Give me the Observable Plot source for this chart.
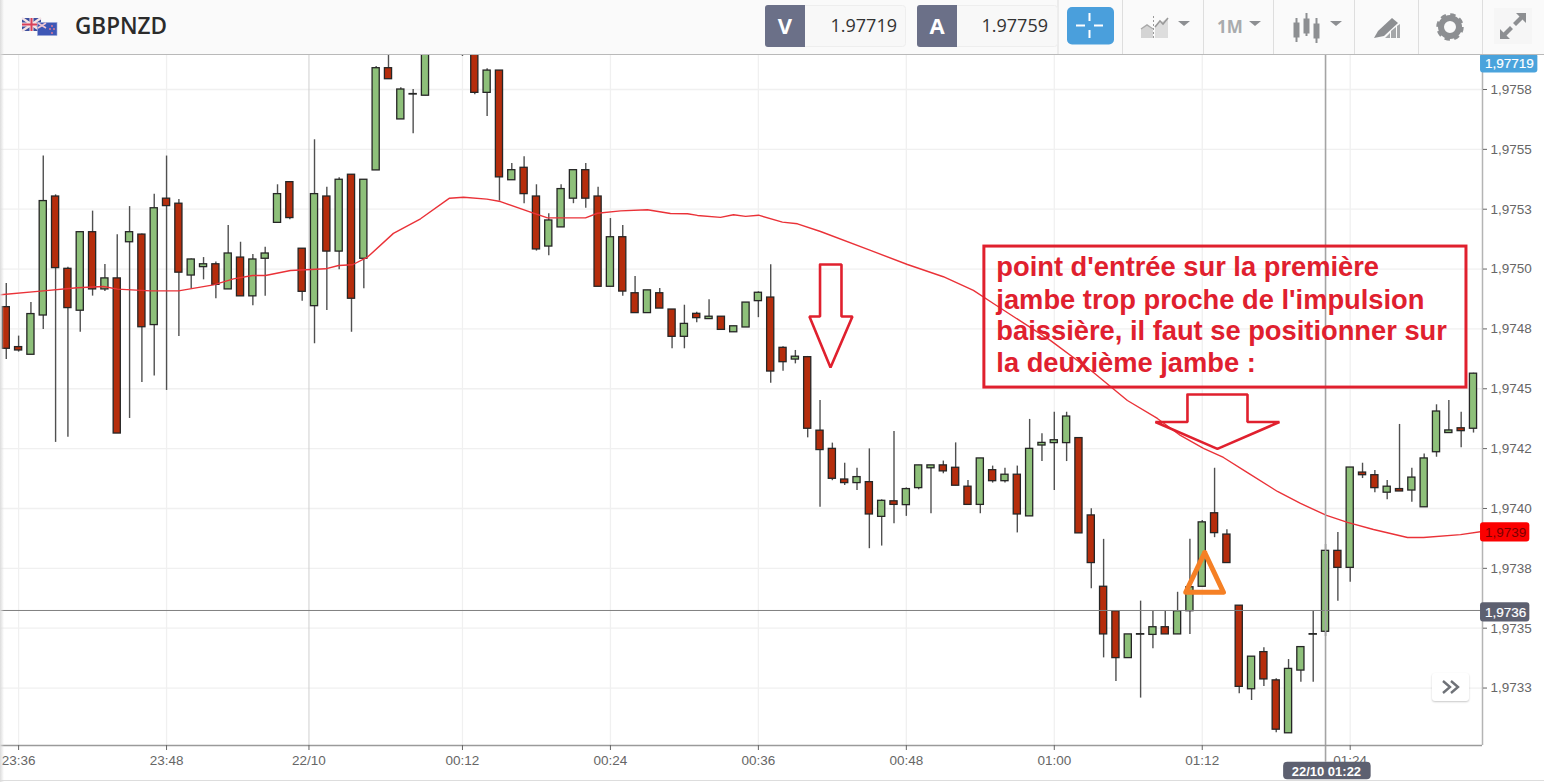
<!DOCTYPE html>
<html lang="fr">
<head>
<meta charset="utf-8">
<title>GBPNZD</title>
<script src="https://cdn.jsdelivr.net/npm/d3@7"></script>
<script src="https://cdn.jsdelivr.net/npm/@observablehq/plot@0.6"></script>
<style>
html,body{margin:0;padding:0;background:#fff;width:1544px;height:782px;overflow:hidden;}
#chart{position:absolute;left:0;top:55px;width:1544px;height:727px;}
#chart svg{display:block;overflow:visible;background:transparent;}
#header{position:absolute;left:0;top:0;z-index:2;display:block;}
#shade{position:absolute;left:0;top:0;width:4px;height:782px;z-index:3;background:linear-gradient(to right,#dcdcdc,rgba(255,255,255,0));}
#foot{position:absolute;left:0;top:780px;width:1544px;height:1px;background:#ddd;}
#more{position:absolute;left:1432px;top:673px;width:37px;height:28px;background:#fff;border-radius:3px;box-shadow:0 1px 2px rgba(0,0,0,.22);z-index:2;}
</style>
</head>
<body>
<div id="chart"></div>
<svg id="header" width="1544" height="55" xmlns="http://www.w3.org/2000/svg" font-family="'Open Sans',sans-serif">
  <rect width="1544" height="54" fill="#fafafa"/>
  <line x1="0" x2="1544" y1="54.5" y2="54.5" stroke="#b9b9b9"/>
  <g stroke="#dedede"><line x1="1058" x2="1058" y2="54"/><line x1="1122.5" x2="1122.5" y2="54"/><line x1="1203.5" x2="1203.5" y2="54"/><line x1="1273.5" x2="1273.5" y2="54"/><line x1="1354.5" x2="1354.5" y2="54"/><line x1="1418.5" x2="1418.5" y2="54"/><line x1="1482.5" x2="1482.5" y2="54"/></g>
  <!-- flags -->
  <rect x="22" y="18" width="19" height="13" fill="#3d4f9e"/>
  <path d="M22 18L41 31M41 18L22 31" stroke="#f3e3e6" stroke-width="2.4"/>
  <path d="M31.5 18V31M22 24.5H41" stroke="#f3e3e6" stroke-width="4"/>
  <path d="M31.5 18V31M22 24.5H41" stroke="#d9415a" stroke-width="2"/>
  <rect x="37.5" y="22.5" width="19.5" height="13" fill="#3e57b6" stroke="#9aa7da" stroke-width=".6"/>
  <path d="M38 23L46 28M46 23L38 28" stroke="#f0c6d2" stroke-width="1.6"/>
  <g fill="#ec7d92"><circle cx="52" cy="26" r=".9"/><circle cx="50" cy="29" r=".9"/><circle cx="54" cy="29" r=".9"/><circle cx="52" cy="33" r=".9"/></g>
  <text x="75" y="34" font-size="22.5" font-weight="600" fill="#2b2b2b">GBPNZD</text>
  <!-- bid / ask -->
  <rect x="765.5" y="5.5" width="140" height="41" rx="3" fill="#f8f8f8" stroke="#eeeeee"/>
  <path d="M768 5H805V47H768Q765 47 765 44V8Q765 5 768 5Z" fill="#6b7088"/>
  <text x="785" y="33.5" font-size="22" font-weight="700" fill="#fff" text-anchor="middle">V</text>
  <text x="897" y="32" font-size="18" fill="#333" text-anchor="end">1.97719</text>
  <rect x="917.5" y="5.5" width="140" height="41" rx="3" fill="#f8f8f8" stroke="#eeeeee"/>
  <path d="M920 5H957V47H920Q917 47 917 44V8Q917 5 920 5Z" fill="#6b7088"/>
  <text x="937" y="33.5" font-size="22" font-weight="700" fill="#fff" text-anchor="middle">A</text>
  <text x="1048" y="32" font-size="18" fill="#333" text-anchor="end">1.97759</text>
  <!-- crosshair button -->
  <rect x="1067" y="7" width="47" height="37.5" rx="5" fill="#4a9fdc"/>
  <path d="M1089.5 13V21M1089.5 30V38M1076 25.5H1085M1094 25.5H1103" stroke="#fff" stroke-width="2"/>
  <!-- chart type -->
  <path d="M1141 38V29L1147 25L1153 30V38Z" fill="#d4d4d4"/>
  <path d="M1155 38V26L1168 18V38Z" fill="#dddddd"/>
  <path d="M1141 29L1147 25L1153 29" fill="none" stroke="#aaa" stroke-width="1.5"/>
  <path d="M1155 27L1160 21L1163 24L1168 18" fill="none" stroke="#999" stroke-width="1.6"/>
  <path d="M1153.5 16V40" stroke="#999" stroke-width="1" stroke-dasharray="2 2"/>
  <path d="M1178 21H1190L1184 26Z" fill="#8d8f92"/>
  <text x="1217" y="33" font-size="17" font-weight="700" fill="#a9abad">1M</text>
  <path d="M1249 21H1261L1255 26Z" fill="#8d8f92"/>
  <!-- candles icon -->
  <g fill="#8d8f92" stroke="#8d8f92">
    <path d="M1296.5 18V42M1306.5 13V36M1316.5 18V43" stroke-width="2" fill="none"/>
    <rect x="1294" y="23" width="5" height="14"/><rect x="1304" y="19" width="5" height="14"/><rect x="1314" y="24" width="5" height="14"/>
  </g>
  <path d="M1330 21H1342L1336 26Z" fill="#8d8f92"/>
  <!-- drawing tool -->
  <path d="M1374 38L1378 31L1392 18L1398 23L1384 36Z" fill="#8d8f92"/>
  <path d="M1385 38L1390 33V38ZM1391 38V31L1396 27V38ZM1397 38V26L1400 24V38Z" fill="#a5a7a9"/>
  <!-- gear -->
  <circle cx="1450" cy="27" r="9" fill="none" stroke="#8d8f92" stroke-width="6"/>
  <circle cx="1450" cy="27" r="12" fill="none" stroke="#8d8f92" stroke-width="3.5" stroke-dasharray="5.2 4.2"/>
  <!-- expand -->
  <rect x="1494" y="8" width="38" height="36" fill="#f6f6f6"/>
  <path d="M1516 13H1526V23L1522.5 19.5L1516 26L1513 23L1519.5 16.5ZM1500 29L1503.5 32.5L1510 26L1513 29L1506.5 35.5L1510 39H1500Z" fill="#8d8f92"/>
</svg>
<div id="more"><svg width="37" height="28" xmlns="http://www.w3.org/2000/svg"><path d="M11 8L18 14L11 20M19 8L26 14L19 20" fill="none" stroke="#6f7278" stroke-width="2.4"/></svg></div>
<div id="foot"></div>
<div id="shade"></div>
<script>
// Candle prices, one entry per minute from 23:35 (index 0) to 01:34
const opens = [
1.974841,1.974674,1.974642,1.974806,1.975303,1.975001,1.974826,1.975154,1.974915,1.974961,
1.975112,1.975144,1.974766,1.975294,1.975273,1.974973,1.975008,1.975020,1.974915,1.975048,
1.974886,1.975043,1.975193,1.975363,1.975085,1.974845,1.975303,1.975073,1.975394,1.975043,
1.975412,1.975839,1.975625,1.975729,1.975724,1.976000,1.976060,1.975970,1.975997,1.975736,
1.975829,1.975371,1.975423,1.975303,1.975094,1.975174,1.975294,1.975413,1.975303,1.974926,
1.975133,1.974899,1.974816,1.974899,1.974831,1.974717,1.974813,1.974791,1.974801,1.974736,
1.974756,1.974866,1.974881,1.974671,1.974622,1.974632,1.974325,1.974249,1.974121,1.974106,
1.974110,1.973965,1.974030,1.974014,1.974085,1.974168,1.974180,1.974170,1.974091,1.974015,
1.974160,1.974114,1.974141,1.973967,1.974263,1.974273,1.974273,1.974294,1.973971,1.973673,
1.973571,1.973375,1.973473,1.973472,1.973504,1.973474,1.973571,1.973673,1.973980,1.973891,
1.973594,1.973245,1.973400,1.973282,1.973061,1.973323,1.973473,1.973485,1.973823,1.973752,
1.974150,1.974139,1.974066,1.974081,1.974075,1.974005,1.974235,1.974315,1.974335,1.974333];
const highs = [
1.974940,1.974720,1.974860,1.975472,1.975310,1.975008,1.975157,1.975242,1.975019,1.975143,
1.975261,1.975146,1.975312,1.975472,1.975291,1.975042,1.975048,1.975029,1.975182,1.975112,
1.975061,1.975091,1.975352,1.975363,1.975085,1.975540,1.975342,1.975381,1.975394,1.975373,
1.975846,1.975934,1.975757,1.975750,1.976020,1.976120,1.976200,1.976100,1.976030,1.975837,
1.975829,1.975441,1.975469,1.975352,1.975231,1.975352,1.975413,1.975441,1.975342,1.975211,
1.975182,1.974969,1.974911,1.974919,1.974831,1.974849,1.974820,1.974872,1.974801,1.974761,
1.974860,1.974905,1.975018,1.974675,1.974660,1.974635,1.974451,1.974273,1.974189,1.974168,
1.974249,1.974036,1.974322,1.974086,1.974180,1.974180,1.974198,1.974274,1.974117,1.974209,
1.974177,1.974168,1.974177,1.974372,1.974312,1.974402,1.974402,1.974296,1.973999,1.973871,
1.973571,1.973474,1.973613,1.973571,1.973571,1.973650,1.973871,1.973950,1.974168,1.973911,
1.973594,1.973381,1.973418,1.973289,1.973369,1.973421,1.973571,1.973850,1.973900,1.974171,
1.974189,1.974159,1.974117,1.974351,1.974168,1.974228,1.974433,1.974451,1.974402,1.974565];
const lows = [
1.974622,1.974653,1.974642,1.974748,1.974276,1.974297,1.974736,1.974887,1.974906,1.974313,
1.974376,1.974526,1.974553,1.974493,1.974718,1.974918,1.974955,1.974876,1.974915,1.974886,
1.974847,1.974886,1.975193,1.975206,1.974866,1.974688,1.974827,1.974997,1.974736,1.974918,
1.975412,1.975793,1.975625,1.975565,1.975724,1.975920,1.975960,1.975888,1.975728,1.975637,
1.975284,1.975371,1.975273,1.975075,1.975056,1.975174,1.975273,1.975254,1.974926,1.974926,
1.974886,1.974816,1.974816,1.974835,1.974667,1.974667,1.974776,1.974791,1.974746,1.974736,
1.974756,1.974797,1.974523,1.974573,1.974604,1.974295,1.974005,1.974116,1.974096,1.974075,
1.973832,1.973843,1.973936,1.973967,1.974078,1.973978,1.974145,1.974095,1.974015,1.973978,
1.974106,1.974106,1.973898,1.973967,1.974196,1.974075,1.974196,1.973896,1.973665,1.973376,
1.973277,1.973375,1.973208,1.973414,1.973474,1.973474,1.973474,1.973673,1.973878,1.973772,
1.973226,1.973198,1.973256,1.973063,1.973061,1.973274,1.973274,1.973465,1.973613,1.973692,
1.974125,1.974066,1.974036,1.974071,1.974026,1.974005,1.974214,1.974315,1.974254,1.974315];
const closes = [
1.974667,1.974660,1.974812,1.975284,1.975004,1.974837,1.975154,1.974915,1.974961,1.974313,
1.975154,1.974757,1.975254,1.975263,1.974985,1.975040,1.975020,1.974934,1.975065,1.974886,
1.975040,1.975065,1.975313,1.975213,1.974905,1.975313,1.975073,1.975373,1.974876,1.975373,
1.975839,1.975793,1.975750,1.975731,1.975997,1.976060,1.976000,1.976030,1.975736,1.975829,
1.975383,1.975413,1.975313,1.975082,1.975203,1.975334,1.975413,1.975294,1.974926,1.975133,
1.974906,1.974816,1.974911,1.974835,1.974717,1.974771,1.974795,1.974801,1.974746,1.974761,
1.974860,1.974901,1.974572,1.974611,1.974634,1.974333,1.974244,1.974124,1.974106,1.974131,
1.973975,1.974032,1.974015,1.974081,1.974180,1.974180,1.974155,1.974095,1.974015,1.974209,
1.974114,1.974141,1.973975,1.974249,1.974274,1.974285,1.974384,1.973896,1.973772,1.973474,
1.973375,1.973474,1.973475,1.973504,1.973474,1.973571,1.973671,1.973942,1.973897,1.973772,
1.973255,1.973381,1.973286,1.973076,1.973330,1.973421,1.973475,1.973823,1.973752,1.974171,
1.974139,1.974085,1.974091,1.974071,1.974129,1.974209,1.974405,1.974326,1.974323,1.974563];

// Moving average
const maMinutes = [-1.47,1.78,4.75,6.89,8.02,10.7,12.97,15.81,17.43,18.97,20.02,22.05,24.89,25.95,27.08,28.3,30.4,32.6,34.95,36.09,37.98,39.08,41.52,42.9,45.98,46.95,48.82,51,52.87,54.25,55.06,56.93,57.98,58.96,60.01,61.95,63.17,65.04,69.09,72.09,75,77.44,79.06,83.68,87.18,89.93,92.36,94.23,96.1,97.72,99.67,102.1,103.97,106.08,107.78,109.89,112.65,113.95,116.95,118.73];
const maPrices = [1.974893,1.974908,1.974922,1.974927,1.974916,1.974909,1.974909,1.974934,1.974959,1.974973,1.974973,1.974994,1.975001,1.975015,1.975018,1.975050,1.975149,1.975210,1.975296,1.975300,1.975292,1.975282,1.975238,1.975214,1.975214,1.975233,1.975243,1.975248,1.975232,1.975231,1.975224,1.975216,1.975227,1.975220,1.975225,1.975196,1.975189,1.975157,1.975078,1.975019,1.974968,1.974911,1.974856,1.974702,1.974568,1.974451,1.974376,1.974305,1.974251,1.974213,1.974150,1.974071,1.974021,1.973971,1.973942,1.973912,1.973879,1.973879,1.973891,1.973904];

// Axes
const priceTicks = [1.97575,1.9755,1.97525,1.975,1.97475,1.9745,1.97425,1.974,1.97375,1.9735,1.97325];
const priceLabels = ["1,9758","1,9755","1,9753","1,9750","1,9748","1,9745","1,9742","1,9740","1,9738","1,9735","1,9733"];
const timeTicks = [0,12,23.55,36,48,60,72,84,96,108];
const timeLabels = ["23:36","23:48","22/10","00:12","00:24","00:36","00:48","01:00","01:12","01:24"];
const xDomain = [-1.468,118.73];
const yDomain = [1.97301,1.975892];

// Live-price tags and crosshair
const crossMinute = 106;
const crossPrice = 1.973574;
const tags = [
  {label:"1,97719", price:1.975859, fill:"#4aa3dc", color:"#fff", to:123.22},
  {label:"1,9739",  price:1.973900, fill:"#fb0000", color:"#7a0000", to:122.57},
  {label:"1,9736",  price:1.973566, fill:"#5d6070", color:"#fff", to:122.57}
];
const timeTag = {label:"22/10 01:22", from:102.6, to:109.7, top:1.972940, bottom:1.972867, mid:106.07, text:1.972900};

// Hand-drawn annotations, in chart units
const arrowOneMinutes = [65,66.74,66.74,67.63,65.85,64.14,65,65];
const arrowOnePrices  = [1.975019,1.975019,1.974802,1.974802,1.974589,1.974802,1.974802,1.975019];
const arrowTwoMinutes = [94.8,99.67,99.67,102.26,97.23,92.2,94.8,94.8];
const arrowTwoPrices  = [1.974476,1.974476,1.974361,1.974361,1.974249,1.974361,1.974361,1.974476];
const triMinutes = [96.2,97.72,94.66,96.2];
const triPrices  = [1.973816,1.973650,1.973650,1.973816];
const noteBox = {x1:78.33,x2:117.43,y1:1.975094,y2:1.974505};
const noteLines = ["point d'entrée sur la première","jambe trop proche de l'impulsion","baissière, il faut se positionner sur","la deuxième jambe :"];
const notePrices = [1.974969,1.974835,1.974702,1.974568];
const noteMinute = 79.3;

const candles = opens.map((o,i)=>({m:i-1,open:o,high:highs[i],low:lows[i],close:closes[i]}));
const ma = maMinutes.map((m,i)=>({m,p:maPrices[i]}));
const path = (ms,ps)=>ms.map((m,i)=>({m,p:ps[i]}));
const priceLabel = new Map(priceTicks.map((t,i)=>[t,priceLabels[i]]));
const timeLabel = new Map(timeTicks.map((t,i)=>[t,timeLabels[i]]));
const halfBody = 0.29, tagHalf = 0.00004, RED = "#e0202e";

const chart = Plot.plot({
  width:1544, height:727,
  marginTop:0, marginLeft:0, marginRight:62, marginBottom:37,
  x:{domain:xDomain},
  y:{domain:yDomain},
  style:{fontFamily:"'Liberation Sans',Arial,sans-serif",fontSize:"13.5px",background:"transparent"},
  marks:[
    Plot.ruleY(priceTicks,{stroke:"#f0f0f0",strokeWidth:1.3}),
    Plot.ruleX(timeTicks.filter(t=>t!==23.55),{stroke:"#f0f0f0",strokeWidth:1.3}),
    Plot.ruleX([23.55],{stroke:"#cfcfcf",strokeWidth:1}),
    Plot.ruleX(candles,{x:"m",y1:"low",y2:"high",stroke:"#505050",strokeWidth:1.4,clip:true}),
    Plot.rect(candles,{
      x1:d=>d.m-halfBody,x2:d=>d.m+halfBody,y1:"open",y2:"close",
      fill:d=>d.close>=d.open?"#8ec07a":"#b52d0c",
      stroke:"#262626",strokeWidth:1.3,clip:true
    }),
    Plot.line(ma,{x:"m",y:"p",stroke:"#ea3238",strokeWidth:1.4,clip:true}),
    Plot.ruleY([crossPrice],{stroke:"#808080",strokeWidth:1}),
    Plot.ruleX([crossMinute],{y1:yDomain[1],y2:timeTag.top,stroke:"#a4a4a4",strokeWidth:1.6}),
    Plot.ruleX([xDomain[1]],{stroke:"#b4b4b4",strokeWidth:1.5}),
    Plot.ruleY([yDomain[0]],{stroke:"#9a9a9a",strokeWidth:1.4}),
    Plot.axisY(priceTicks,{anchor:"right",tickSize:4,tickPadding:4,color:"#666",label:null,fontSize:13.5,tickFormat:d=>priceLabel.get(d)}),
    Plot.axisX(timeTicks,{anchor:"bottom",tickSize:5,tickPadding:5,color:"#666",label:null,fontSize:13.5,tickFormat:d=>timeLabel.get(d)}),
    // tags
    Plot.rect(tags,{x1:xDomain[1]-0.16,x2:"to",y1:d=>d.price-tagHalf,y2:d=>d.price+tagHalf,fill:"fill",rx:3}),
    Plot.text(tags,{x:xDomain[1]+0.2,y:"price",text:"label",fill:"color",textAnchor:"start",fontSize:13.5,stroke:d=>d.color==="#fff"?"#fff":"none",strokeWidth:0.2}),
    Plot.rect([timeTag],{x1:"from",x2:"to",y1:"top",y2:"bottom",fill:"#5d6070",rx:4}),
    Plot.text([timeTag],{x:"mid",y:"text",text:"label",fill:"#fff",fontSize:13,fontWeight:600}),
    // annotations
    Plot.line(path(arrowOneMinutes,arrowOnePrices),{x:"m",y:"p",stroke:RED,strokeWidth:2.6,strokeLinejoin:"miter"}),
    Plot.line(path(arrowTwoMinutes,arrowTwoPrices),{x:"m",y:"p",stroke:RED,strokeWidth:2.6,strokeLinejoin:"miter"}),
    Plot.line(path(triMinutes,triPrices),{x:"m",y:"p",stroke:"#f58025",strokeWidth:5,strokeLinejoin:"round",strokeLinecap:"round"}),
    Plot.rect([noteBox],{x1:"x1",x2:"x2",y1:"y1",y2:"y2",fill:"none",stroke:RED,strokeWidth:3}),
    Plot.text(noteLines,{x:noteMinute,y:(d,i)=>notePrices[i],text:d=>d,textAnchor:"start",lineAnchor:"bottom",fill:RED,fontSize:27.3,fontWeight:700})
  ]
});
document.getElementById("chart").appendChild(chart);
</script>
</body>
</html>
